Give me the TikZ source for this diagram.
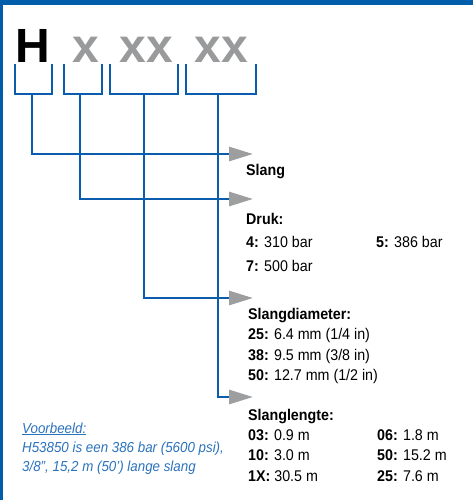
\documentclass[tikz,border=0pt]{standalone}
\usepackage{fontspec}
\setmainfont{Liberation Sans}
\newfontfamily\narrowfont{Liberation Sans}[FakeStretch=0.92]
\usetikzlibrary{arrows.meta}
\definecolor{frameblue}{HTML}{005DAA}
\definecolor{lineblue}{HTML}{0A5CAD}
\definecolor{lettergray}{HTML}{999A9C}
\definecolor{arrowgray}{HTML}{9D9EA0}
\definecolor{textblue}{HTML}{2A72BC}
\begin{document}
\begin{tikzpicture}[x=1pt,y=-1pt,
  lbl/.style={anchor=base west,inner sep=0pt,font=\narrowfont\fontsize{15.5}{18}\selectfont},
  note/.style={anchor=base west,inner sep=0pt,text=textblue,font=\narrowfont\itshape\fontsize{14.5}{17}\selectfont},
  big/.style={anchor=base,inner sep=0pt,font=\fontsize{48}{50}\selectfont\bfseries},
  bracket/.style={draw=lineblue,line width=2.8pt},
  conn/.style={draw=lineblue,line width=2.8pt,-{Triangle[length=24pt,width=14pt,color=arrowgray]}}]
\useasboundingbox (0,0) rectangle (473,500);
% frame
\fill[frameblue] (0,0) rectangle (473,5);
\fill[frameblue] (0,0) rectangle (2.5,500);
% code letters
\node[big,text=black] (H) at (33,63) {H};
\node[big,text=lettergray] (x1) at (85.5,63) {x};
\node[big,text=lettergray] (x2) at (146.5,63) {xx};
\node[big,text=lettergray] (x3) at (221.5,63) {xx};
% brackets
\draw[bracket] (15,64) -- (15,94) -- (52,94) -- (52,64);
\draw[bracket] (64,64) -- (64,94) -- (102,94) -- (102,64);
\draw[bracket] (110,64) -- (110,94) -- (178,94) -- (178,64);
\draw[bracket] (186,64) -- (186,94) -- (256,94) -- (256,64);
\coordinate (s1) at (32,94);
\coordinate (s2) at (80,94);
\coordinate (s3) at (144,94);
\coordinate (s4) at (218,94);
% arrow tips
\coordinate (t1) at (253,154);
\coordinate (t2) at (253,199);
\coordinate (t3) at (253,298);
\coordinate (t4) at (253,397);
% connectors
\draw[conn] (s1) |- (t1);
\draw[conn] (s2) |- (t2);
\draw[conn] (s3) |- (t3);
\draw[conn] (s4) |- (t4);
% labels
\node[lbl] (slang) at (246,175) {\textbf{Slang}};
\node[lbl] (druk) at (246,224) {\textbf{Druk:}};
\node[lbl] (d4) at (246,247) {\textbf{4:} 310 bar};
\node[lbl] (d5) at (376,247) {\textbf{5:} 386 bar};
\node[lbl] (d7) at (246,271) {\textbf{7:} 500 bar};
\node[lbl] (diam) at (248,319) {\textbf{Slangdiameter:}};
\node[lbl] (m25) at (248,339) {\textbf{25:} 6.4 mm (1/4 in)};
\node[lbl] (m38) at (248,360) {\textbf{38:} 9.5 mm (3/8 in)};
\node[lbl] (m50) at (248,380) {\textbf{50:} 12.7 mm (1/2 in)};
\node[lbl] (len) at (248,420) {\textbf{Slanglengte:}};
\node[lbl] (l03) at (248,440) {\textbf{03:} 0.9 m};
\node[lbl] (l10) at (248,460) {\textbf{10:} 3.0 m};
\node[lbl] (l1x) at (248,481) {\textbf{1X:} 30.5 m};
\node[lbl] (l06) at (377,440) {\textbf{06:} 1.8 m};
\node[lbl] (l50) at (377,460) {\textbf{50:} 15.2 m};
\node[lbl] (l25) at (377,481) {\textbf{25:} 7.6 m};
% example
\node[note] (vb) at (22,433) {\underline{Voorbeeld:}};
\node[note] (vb1) at (22,452) {H53850 is een 386 bar (5600 psi),};
\node[note] (vb2) at (22,471) {3/8”, 15,2 m (50’) lange slang};
\end{tikzpicture}
\end{document}
